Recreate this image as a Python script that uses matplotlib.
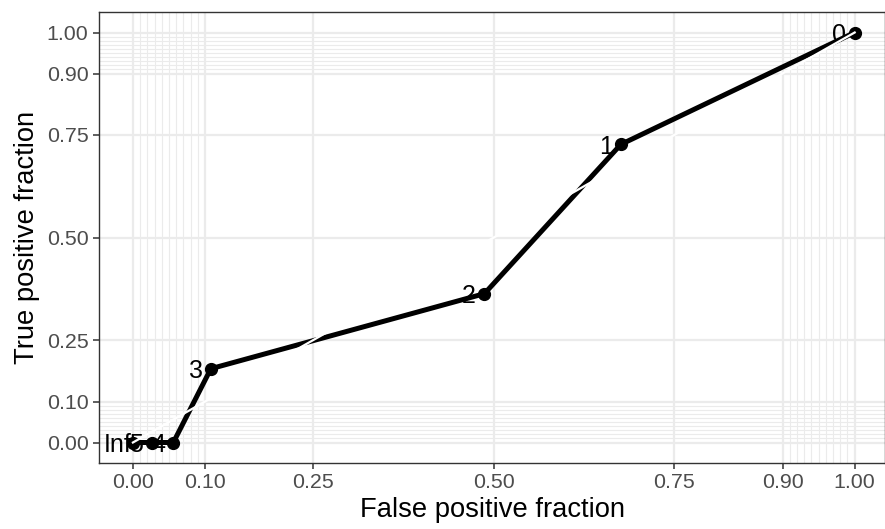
import numpy as np
import matplotlib
matplotlib.use("Agg")
import matplotlib.pyplot as plt

plt.rcParams['font.family'] = ['Liberation Sans', 'DejaVu Sans']

# ROC points
fpf = [0.0, 0.026, 0.056, 0.108, 0.487, 0.676, 1.0]
tpf = [0.0, 0.0, 0.0, 0.18, 0.363, 0.727, 1.0]
cut_labels = ["Inf", "5", "4", "3", "2", "1", "0"]

major_breaks = [0, 0.1, 0.25, 0.5, 0.75, 0.9, 1]
major_labels = ["0.00", "0.10", "0.25", "0.50", "0.75", "0.90", "1.00"]
minor_breaks = [i / 100 for i in range(1, 10)] + [i / 100 for i in range(91, 100)]

fig = plt.figure(figsize=(8.85, 5.29), dpi=100)
ax = fig.add_axes([99 / 885, 66 / 529, 786 / 885, 451 / 529])

ax.set_xlim(-0.047, 1.042)
ax.set_ylim(-0.05, 1.05)

# grid, theme_bw style
for b in minor_breaks:
    ax.axvline(b, color="#EBEBEB", lw=0.8, zorder=0)
    ax.axhline(b, color="#EBEBEB", lw=0.8, zorder=0)
for b in major_breaks:
    ax.axvline(b, color="#EBEBEB", lw=1.6, zorder=0)
    ax.axhline(b, color="#EBEBEB", lw=1.6, zorder=0)

ax.plot(fpf, tpf, color="black", lw=3.6, zorder=2, solid_capstyle="butt")
ax.plot(fpf, tpf, "o", color="black", ms=8.5, zorder=3)

for x, y, lab in zip(fpf, tpf, cut_labels):
    dx = -1 if lab == "Inf" else -6
    ax.annotate(lab, (x, y), xytext=(dx, -2), textcoords="offset points",
                ha="right", va="center", fontsize=18, color="black", zorder=4)

# reference diagonal in white on top
ax.plot([0, 1], [0, 1], color="white", lw=1.6, zorder=5)

ax.set_xticks(major_breaks)
ax.set_xticklabels(major_labels)
ax.set_yticks(major_breaks)
ax.set_yticklabels(major_labels)
ax.tick_params(axis="both", length=4.5, width=1.1, color="#333333",
               labelcolor="#4D4D4D", labelsize=15.4, pad=3)

for s in ax.spines.values():
    s.set_color("#333333")
    s.set_linewidth(1.0)

ax.set_xlabel("False positive fraction", fontsize=19.7, color="black", labelpad=3)
ax.set_ylabel("True positive fraction", fontsize=19.7, color="black", labelpad=5)

fig.savefig("out.png", dpi=100)
